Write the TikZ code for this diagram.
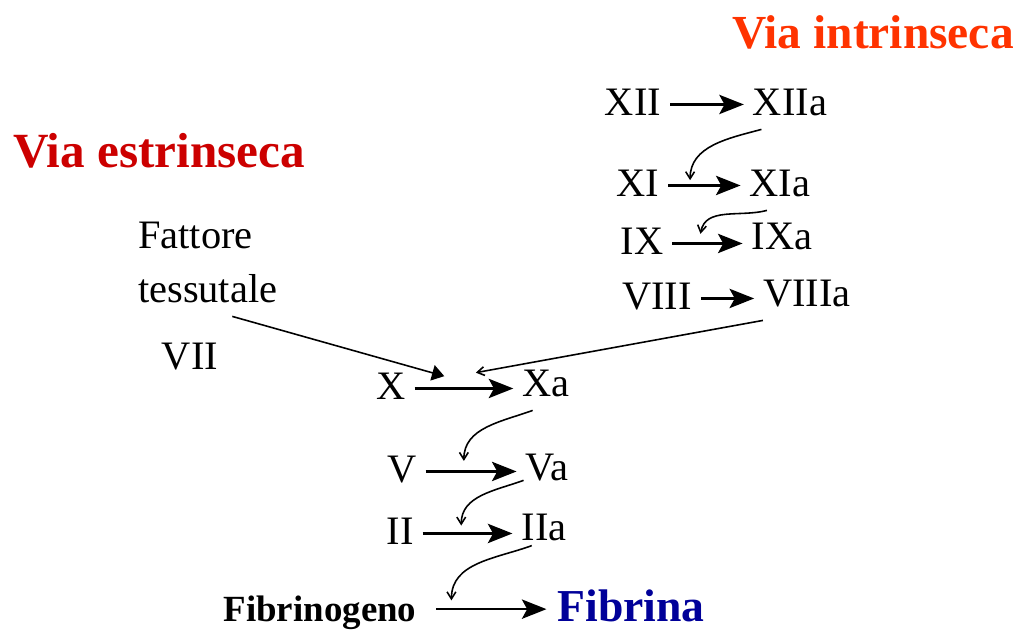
\documentclass[tikz,border=0pt]{standalone}
\usepackage{fontspec}
\setmainfont{Liberation Serif}
\usetikzlibrary{arrows.meta}
\definecolor{rossoarancio}{RGB}{255,51,0}
\definecolor{rossoscuro}{RGB}{204,0,0}
\definecolor{blu}{RGB}{0,0,153}
\tikzset{
  fattore/.style={font=\fontsize{23}{27}\selectfont, text height=15pt, text depth=3pt, inner sep=5pt, anchor=base},
  titolo/.style={font=\fontsize{27}{30}\selectfont\bfseries, anchor=base},
  freccia/.style={-{Stealth[length=14pt,width=11pt,inset=3pt]}, line width=1.3pt},
  ansa/.style={-{Straight Barb[length=4pt,width=5pt]}, line width=0.9pt}
}

\begin{document}
\begin{tikzpicture}[x=0.02cm, y=0.02cm]
  \useasboundingbox (0,0) rectangle (1018,-630);
  % titoli
  \node[titolo, rossoarancio] (intr) at (873,-48) {Via intrinseca};
  \node[titolo, rossoscuro, font=\fontsize{28}{30}\selectfont\bfseries] (estr) at (159,-167) {Via estrinseca};
  % via intrinseca
  \node[fattore] (xii) at (633,-115) {XII};
  \node[fattore] (xiia) at (790,-115) {XIIa};
  \node[fattore] (xi) at (638,-196) {XI};
  \node[fattore] (xia) at (780,-196) {XIa};
  \node[fattore] (ix) at (642,-254) {IX};
  \node[fattore] (ixa) at (782,-249) {IXa};
  \node[fattore] (viii) at (657,-309) {VIII};
  \node[fattore] (viiia) at (807,-306) {VIIIa};
  % via estrinseca
  \node[fattore, anchor=base west] (fattore) at (129,-248) {Fattore};
  \node[fattore, anchor=base west] (tessutale) at (129,-302) {tessutale};
  \node[fattore] (vii) at (190,-369) {VII};
  % via comune
  \node[fattore] (x) at (391,-399) {X};
  \node[fattore] (xa) at (546,-396) {Xa};
  \node[fattore] (v) at (402,-482) {V};
  \node[fattore] (va) at (547,-480) {Va};
  \node[fattore] (ii) at (400,-544) {II};
  \node[fattore] (iia) at (544,-540) {IIa};
  \node[anchor=base, inner sep=5pt, text height=14pt, text depth=0.5pt,
        font=\fontsize{21}{24}\selectfont\bfseries] (fibrinogeno) at (320,-621) {Fibrinogeno};
  \node[titolo, blu, inner sep=1pt, font=\fontsize{26}{30}\selectfont\bfseries] (fibrina) at (631,-621) {Fibrina};

  % attivazioni
  \draw[freccia] (xii) -- (xii -| xiia.west);
  \draw[freccia] (xi) -- (xi -| xia.west) coordinate[pos=0.3, yshift=3pt] (c-xi);
  \draw[freccia] (ix) -- (ix -| ixa.west) coordinate[pos=0.4, yshift=5.5pt] (c-ix);
  \draw[freccia] (viii) -- (viii -| viiia.west);
  \draw[freccia] (x) -- (x -| xa.west) coordinate[pos=0.3, yshift=7pt] (c-x1)
                                      coordinate[pos=0.62, yshift=9pt] (c-x2);
  \draw[freccia] (v) -- (v -| va.west) coordinate[pos=0.42, yshift=6pt] (c-v);
  \draw[freccia] (ii) -- (ii -| iia.west) coordinate[pos=0.43, yshift=4.5pt] (c-ii);
  \draw[freccia, shorten <=6pt, shorten >=5pt] (fibrinogeno) -- (fibrinogeno -| fibrina.west)
        coordinate[pos=0.2, yshift=5pt] (c-fib);

  % cascata
  \draw[ansa] ([xshift=10pt]xiia.south west) to[out=195, in=90] (c-xi);
  \draw[ansa] ([xshift=15pt]xia.south west) to[out=195, in=80] (c-ix);
  \draw[ansa] ([xshift=5pt]viiia.south west) -- (c-x2);
  \draw[-{Triangle[length=7pt,width=9pt]}, line width=0.9pt] ([xshift=14pt]tessutale.south) -- (c-x1);
  \draw[ansa] ([xshift=11pt]xa.south west) to[out=200, in=90] (c-v);
  \draw[ansa] ([xshift=4pt,yshift=8pt]va.south west) to[out=200, in=90] (c-ii);
  \draw[ansa] ([xshift=11pt,yshift=5pt]iia.south west) to[out=200, in=90] (c-fib);
\end{tikzpicture}
\end{document}
